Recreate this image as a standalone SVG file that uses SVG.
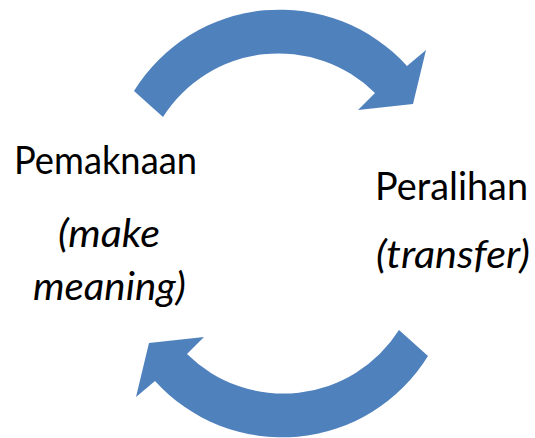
<svg xmlns="http://www.w3.org/2000/svg" width="535" height="438" viewBox="0 0 535 438">
<defs>
<style>
.arrow{fill:#4F81BD;stroke:none}
.lbl{font-family:Lato,"Open Sans","Liberation Sans",sans-serif;font-size:38px;fill:#000}
.it{font-style:italic}
</style>
<path id="curved" d="M134,91 A171.5,171.5 0 0 1 407,66 L426,50 L413,104 L358,110 L375,93 A137,137 0 0 0 163,117 Z"/>
</defs>
<rect width="535" height="438" fill="#fff"/>
<g id="connectors">
<use href="#curved" class="arrow"/>
<use href="#curved" class="arrow" transform="rotate(180 281 223.5)"/>
</g>
<g id="pemaknaan">
<text class="lbl" x="14" y="174" textLength="183" lengthAdjust="spacingAndGlyphs">Pemaknaan</text>
<text class="lbl it" x="58" y="247" textLength="102" lengthAdjust="spacingAndGlyphs">(make</text>
<text class="lbl it" x="33" y="300" textLength="153" lengthAdjust="spacingAndGlyphs">meaning)</text>
</g>
<g id="peralihan">
<text class="lbl" x="375" y="200" textLength="153" lengthAdjust="spacingAndGlyphs">Peralihan</text>
<text class="lbl it" x="376" y="268" textLength="154" lengthAdjust="spacingAndGlyphs">(transfer)</text>
</g>
</svg>
